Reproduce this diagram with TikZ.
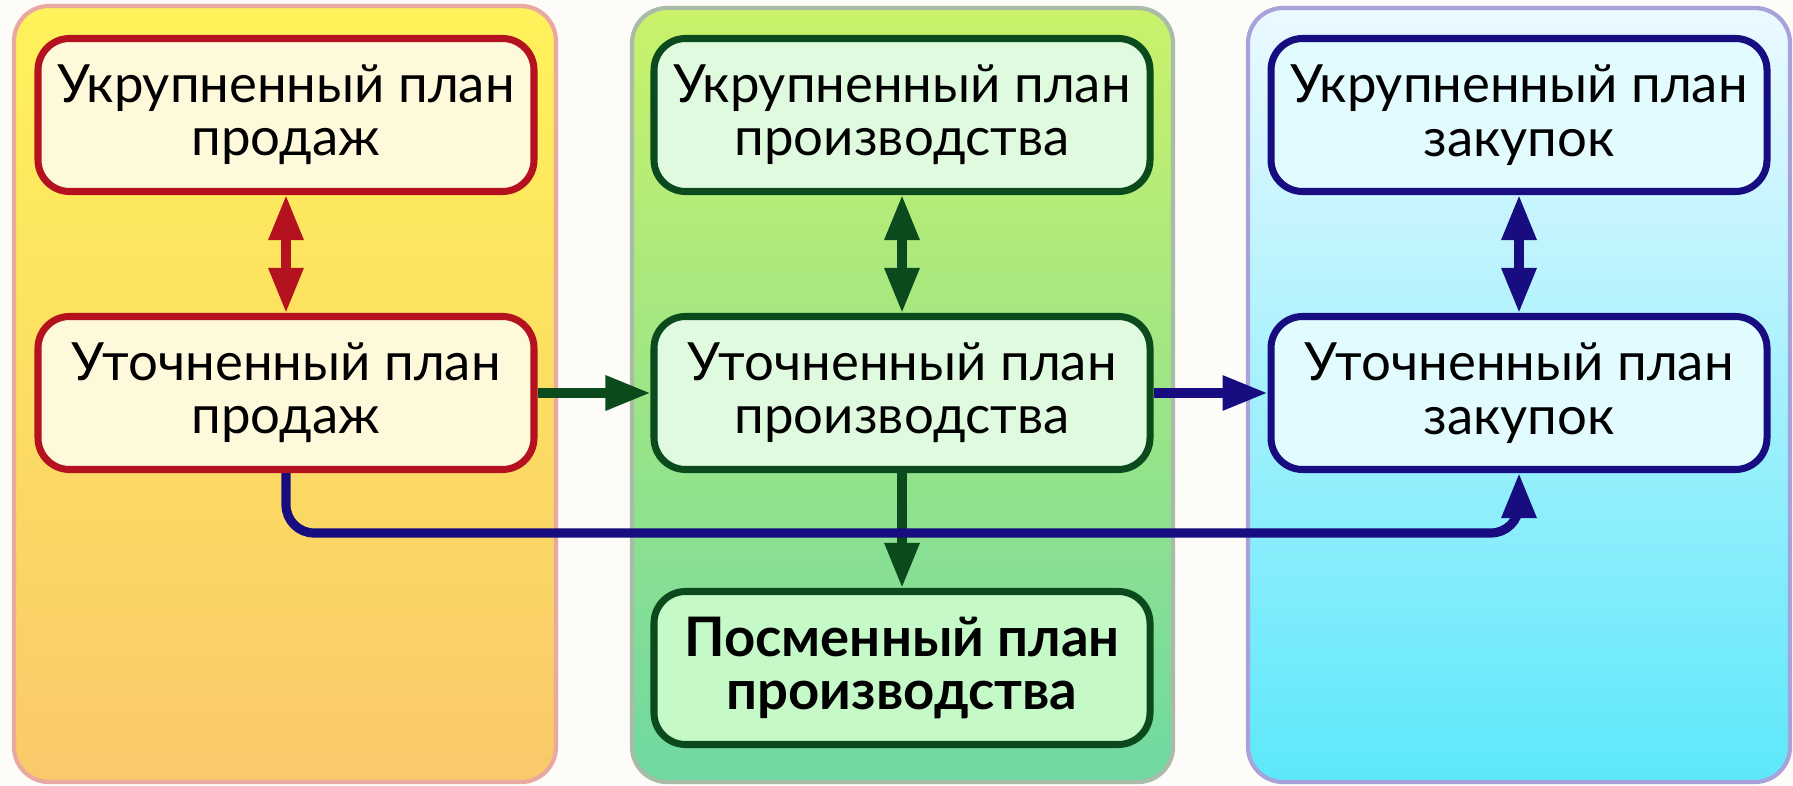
\documentclass[tikz,border=0pt]{standalone}
\usepackage{fontspec}
\setmainfont{Lato}
\usetikzlibrary{arrows.meta}

\definecolor{bgC}{HTML}{FEFCF8}
\definecolor{salesF}{HTML}{FFF9DC}
\definecolor{salesE}{HTML}{B3121E}
\definecolor{prodF}{HTML}{E0FAE0}
\definecolor{prodB}{HTML}{C6F9C8}
\definecolor{prodE}{HTML}{0B4A1C}
\definecolor{buyF}{HTML}{E2FBFF}
\definecolor{buyE}{HTML}{170C80}
\definecolor{bandYT}{HTML}{FFF25A}
\definecolor{bandYB}{HTML}{F9C96A}
\definecolor{bandYE}{HTML}{E9A9A0}
\definecolor{bandGT}{HTML}{CAF26A}
\definecolor{bandGM}{HTML}{A4E884}
\definecolor{bandGB}{HTML}{6FD8A2}
\definecolor{bandGE}{HTML}{A8BCA8}
\definecolor{bandBT}{HTML}{ECF9FF}
\definecolor{bandBB}{HTML}{5CE8FA}
\definecolor{bandBE}{HTML}{A8A2DA}

\begin{document}
\begin{tikzpicture}[
  card/.style 2 args={draw=#1, fill=#2, line width=2pt, rounded corners=9pt,
                      minimum width=4.96cm, minimum height=1.53cm, align=center,
                      inner sep=1pt, font=\fontsize{15}{15.2}\selectfont},
  band/.style={draw=#1, line width=1.2pt, rounded corners=10pt},
  link/.style={line width=2.6pt, -{Triangle[length=4.5mm, width=3.3mm]}},
  dlink/.style={line width=2.6pt, {Triangle[length=4.5mm, width=3.3mm]}-{Triangle[length=4.5mm, width=3.3mm]}},
]
\useasboundingbox (0,0) rectangle (17.93,7.85);
\fill[bgC] (0,0) rectangle (17.93,7.85);

% column bands (drawn first = behind)
\shade[band=bandYE, top color=bandYT, bottom color=bandYB] (0.14,0.03) rectangle (5.56,7.79);
\shade[band=bandGE, top color=bandGT, middle color=bandGM, bottom color=bandGB] (6.32,0.03) rectangle (11.73,7.77);
\shade[band=bandBE, top color=bandBT, bottom color=bandBB] (12.48,0.03) rectangle (17.90,7.77);

% --- sales ---
\node[card={salesE}{salesF}] (salesTop) at (2.86,6.70) {Укрупненный план\\продаж};
\node[card={salesE}{salesF}] (salesFine) at (2.86,3.92) {Уточненный план\\продаж};

% --- production ---
\node[card={prodE}{prodF}] (prodTop) at (9.02,6.70) {Укрупненный план\\производства};
\node[card={prodE}{prodF}] (prodFine) at (9.02,3.92) {Уточненный план\\производства};
\node[card={prodE}{prodB}, font=\fontsize{15.5}{15.2}\selectfont\bfseries] (prodShift) at (9.02,1.17) {Посменный план\\производства};

% --- purchasing ---
\node[card={buyE}{buyF}] (buyTop) at (15.19,6.70) {Укрупненный план\\закупок};
\node[card={buyE}{buyF}] (buyFine) at (15.19,3.92) {Уточненный план\\закупок};

% links
\draw[dlink, salesE] (salesTop) -- (salesFine);
\draw[dlink, prodE] (prodTop) -- (prodFine);
\draw[dlink, buyE] (buyTop) -- (buyFine);

\draw[link, prodE] (salesFine) -- (prodFine);
\draw[link, buyE] (prodFine) -- (buyFine);
\draw[link, prodE] (prodFine) -- (prodShift);

\coordinate (turn) at (0,2.52);
\draw[link, buyE, rounded corners=8pt] (salesFine.south) |- (turn -| buyFine.south) -- (buyFine.south);
\end{tikzpicture}
\end{document}
